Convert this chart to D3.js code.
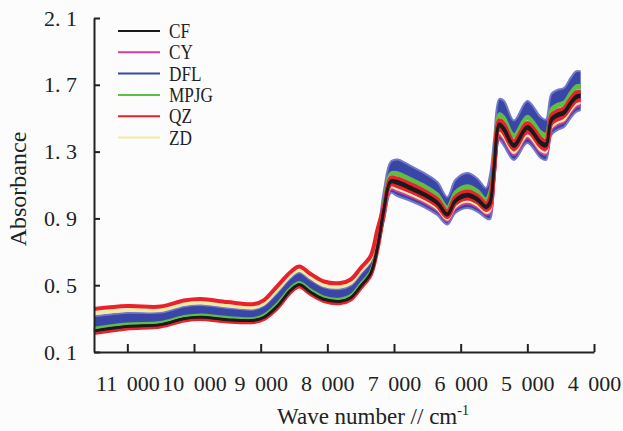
<!DOCTYPE html>
<html><head><meta charset="utf-8">
<script src="https://cdn.jsdelivr.net/npm/d3@7/dist/d3.min.js"></script>
<style>
html,body{margin:0;padding:0;background:#fcfcfc;}
svg{display:block;}
text{font-family:"Liberation Serif","DejaVu Serif",serif;fill:#222;}
</style></head><body>
<svg id="chart" width="623" height="431"></svg>
<script>
// ---- data ----
const wavenumbers = [11500,11000,10500,10150,9900,9500,9100,8950,8750,8550,8420,8250,8050,7800,7650,7500,7350,7250,7150,7050,6950,6750,6550,6350,6200,6080,5900,5750,5620,5560,5500,5420,5350,5200,5000,4800,4720,4640,4550,4450,4350,4270,4200];

const classNames = ["CF","CY","DFL","MPJG","QZ","ZD"];
const classColors = ["#1a1a1a","#d63c9b","#3a45a8","#5cbf46","#e8212b","#f1eaa2"];

// each class: upper and lower edge spectra of its sample group (absorbance)
const dflUpper = [.314,.335,.336,.372,.381,.364,.355,.377,.455,.543,.576,.531,.487,.477,.498,.567,.641,.795,1.070,1.238,1.253,1.214,1.172,1.118,1.028,1.130,1.172,1.139,1.082,1.160,1.369,1.615,1.603,1.486,1.603,1.507,1.492,1.645,1.669,1.681,1.741,1.780,1.780];
const dflLower = [.235,.261,.271,.307,.316,.300,.296,.315,.383,.477,.510,.465,.423,.411,.432,.501,.578,.729,.890,1.052,1.034,1.004,.968,.920,.863,.932,.962,.941,.902,.896,1.100,1.369,1.334,1.250,1.351,1.262,1.250,1.399,1.429,1.447,1.501,1.537,1.549];
const qzUpper = [.357,.375,.372,.408,.417,.399,.387,.411,.495,.579,.612,.567,.522,.513,.534,.603,.675,.831,.976,1.141,1.139,1.105,1.066,1.015,.942,1.027,1.063,1.036,.988,1.023,1.229,1.487,1.463,1.363,1.472,1.380,1.366,1.517,1.544,1.559,1.616,1.654,1.660];
const qzLower = [.214,.241,.253,.289,.298,.283,.280,.298,.363,.459,.492,.447,.405,.393,.414,.483,.561,.711,.940,1.104,1.095,1.063,1.025,.975,.909,.987,1.021,.996,.952,.970,1.175,1.438,1.409,1.316,1.422,1.331,1.318,1.468,1.496,1.513,1.568,1.605,1.614];
const zdUpper = [.337,.356,.355,.391,.400,.383,.372,.395,.477,.562,.595,.550,.506,.496,.517,.586,.659,.814,.985,1.151,1.150,1.115,1.076,1.025,.950,1.037,1.073,1.046,.997,1.036,1.243,1.499,1.477,1.375,1.485,1.392,1.378,1.529,1.556,1.571,1.628,1.666,1.671];
const zdLower = [.326,.346,.346,.382,.391,.373,.363,.386,.466,.553,.586,.541,.496,.487,.508,.577,.650,.805,.922,1.085,1.073,1.042,1.005,.956,.893,.968,1.000,.977,.934,.944,1.148,1.413,1.382,1.292,1.396,1.306,1.294,1.443,1.472,1.489,1.544,1.581,1.591];
const mpjgUpper = [.243,.268,.277,.313,.322,.306,.301,.321,.389,.483,.516,.471,.428,.417,.438,.507,.584,.735,1.005,1.171,1.174,1.138,1.099,1.047,.969,1.059,1.096,1.068,1.017,1.065,1.272,1.526,1.506,1.401,1.512,1.419,1.405,1.556,1.583,1.597,1.655,1.693,1.697];
const mpjgLower = [.234,.260,.270,.306,.315,.299,.295,.314,.381,.476,.509,.464,.421,.410,.431,.500,.577,.728,.994,1.160,1.161,1.126,1.086,1.035,.959,1.047,1.084,1.056,1.006,1.049,1.256,1.512,1.490,1.387,1.497,1.404,1.390,1.542,1.568,1.583,1.640,1.678,1.683];
const cfUpper = [.228,.254,.265,.301,.310,.295,.291,.309,.376,.471,.504,.459,.417,.405,.426,.495,.572,.723,.962,1.126,1.122,1.088,1.050,.999,.929,1.011,1.046,1.020,.974,1.002,1.208,1.467,1.442,1.344,1.452,1.360,1.347,1.497,1.525,1.541,1.597,1.634,1.641];
const cfLower = [.225,.252,.263,.299,.308,.292,.289,.307,.374,.469,.502,.457,.414,.403,.424,.493,.570,.721,.951,1.115,1.108,1.075,1.037,.987,.919,.999,1.033,1.008,.963,.986,1.191,1.453,1.425,1.330,1.437,1.345,1.332,1.483,1.511,1.527,1.583,1.620,1.628];
const cyUpper = [.234,.260,.270,.306,.315,.299,.295,.314,.381,.476,.509,.464,.421,.410,.431,.500,.577,.728,.930,1.093,1.082,1.050,1.013,.964,.899,.976,1.008,.985,.942,.954,1.159,1.423,1.393,1.302,1.406,1.316,1.303,1.453,1.482,1.498,1.554,1.590,1.600];
const cyLower = [.225,.252,.263,.299,.308,.292,.289,.307,.374,.469,.502,.457,.414,.403,.424,.493,.570,.721,.915,1.078,1.065,1.033,.997,.948,.886,.960,.991,.969,.927,.933,1.138,1.403,1.372,1.283,1.386,1.296,1.284,1.433,1.463,1.480,1.535,1.571,1.581];

const xTickValues = [11000,10000,9000,8000,7000,6000,5000,4000];
const xTickLabels = ["11 000","10 000","9 000","8 000","7 000","6 000","5 000","4 000"];
const yTickValues = [2.1,1.7,1.3,0.9,0.5,0.1];
const yTickLabels = ["2. 1","1. 7","1. 3","0. 9","0. 5","0. 1"];

// ---- drawing ----
const svg = d3.select("#chart");
const x = d3.scaleLinear().domain([11500,4000]).range([94,594]);
const y = d3.scaleLinear().domain([0.1,2.1]).range([352,18]);
const curve = d3.curveCatmullRom.alpha(0.5);
const line = d3.line().x((d,i)=>x(wavenumbers[i])).y(d=>y(d)).curve(curve);
const area = d3.area().x((d,i)=>x(wavenumbers[i])).y0(d=>y(d[1])).y1(d=>y(d[0])).curve(curve);
const color = n => classColors[classNames.indexOf(n)];

const plot = svg.append("g");
// DFL group drawn as filled band
plot.append("path").attr("d", area(dflUpper.map((v,i)=>[v,dflLower[i]])))
  .attr("fill", color("DFL"));
[dflUpper, dflLower].forEach(s=>plot.append("path").attr("d", line(s))
  .attr("fill","none").attr("stroke","#7379c6").attr("stroke-width",2));

const lineLayers = [
  ["CY",  [cyUpper, cyLower], 3],
  ["ZD",  [zdUpper, zdLower], 2.2],
  ["MPJG",[mpjgUpper, mpjgLower], 3],
  ["QZ",  [qzUpper, qzLower], 4],
  ["CF",  [cfUpper, cfLower], 2.5]
];
lineLayers.forEach(([name, series, w])=>{
  series.forEach(s=>plot.append("path").attr("d", line(s))
    .attr("fill","none").attr("stroke", color(name)).attr("stroke-width", w)
    .attr("stroke-linejoin","round"));
});

// axes
const xAxis = d3.axisBottom(x).tickValues(xTickValues)
  .tickFormat((d,i)=>xTickLabels[i]).tickSizeInner(-8).tickSizeOuter(0).tickPadding(23);
const gx = svg.append("g").attr("transform","translate(0,352)").call(xAxis);
const yAxis = d3.axisLeft(y).tickValues(yTickValues)
  .tickFormat((d,i)=>yTickLabels[i]).tickSizeInner(-6).tickSizeOuter(0).tickPadding(17);
const gy = svg.append("g").attr("transform","translate(94,0)").call(yAxis);
[gx,gy].forEach(g=>{
  g.select(".domain").attr("stroke","#222").attr("stroke-width",2);
  g.selectAll(".tick line").attr("stroke","#222").attr("stroke-width",2);
  g.selectAll(".tick text").attr("font-size",22).attr("fill","#222")
    .style("font-family","'Liberation Serif',serif").style("white-space","pre");
});
gx.selectAll(".tick text").style("word-spacing","4px");

// axis titles
svg.append("text").attr("transform","translate(26,189) rotate(-90)")
  .attr("text-anchor","middle").attr("font-size",24).text("Absorbance");
const xt = svg.append("text").attr("x",373).attr("y",424).attr("text-anchor","middle").attr("font-size",23);
xt.append("tspan").text("Wave number // cm");
xt.append("tspan").attr("font-size",14).attr("dy",-9).text("-1");

// legend
const legend = svg.append("g");
classNames.forEach((n,i)=>{
  const ly = 31 + i*21.3;
  legend.append("line").attr("x1",118).attr("x2",160).attr("y1",ly).attr("y2",ly)
    .attr("stroke",classColors[i]).attr("stroke-width",2);
  legend.append("text").attr("transform",`translate(169,${ly}) scale(0.82,1)`)
    .attr("dominant-baseline","central").attr("font-size",21).text(n);
});
</script></body></html>
